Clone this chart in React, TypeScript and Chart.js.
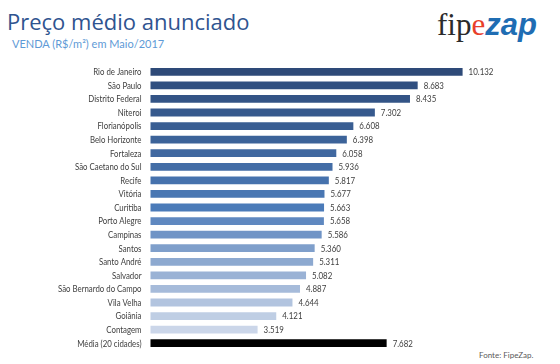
import React, { useEffect, useRef } from "react";
import { Chart, registerables } from "chart.js";

Chart.register(...registerables);

const cities = [
  "Rio de Janeiro", "São Paulo", "Distrito Federal", "Niteroi", "Florianópolis",
  "Belo Horizonte", "Fortaleza", "São Caetano do Sul", "Recife", "Vitória",
  "Curitiba", "Porto Alegre", "Campinas", "Santos", "Santo André",
  "Salvador", "São Bernardo do Campo", "Vila Velha", "Goiânia", "Contagem",
  "Média (20 cidades)",
];

const prices = [
  10132, 8683, 8435, 7302, 6608, 6398, 6058, 5936, 5817, 5677,
  5663, 5658, 5586, 5360, 5311, 5082, 4887, 4644, 4121, 3519, 7682,
];

const barColors = [
  "#2E4A78", "#304F80", "#335486", "#36598D", "#395E93",
  "#3C6399", "#4068A0", "#436DA6", "#4672AD", "#4977B3",
  "#4B7BB9", "#5F88C0", "#7094C6", "#7F9FCB", "#8DA9D0",
  "#9AB2D5", "#A6BBDA", "#B2C4DF", "#BFCEE4", "#CBD6E9", "#000000",
];

const FONT = "Lato, 'Open Sans', sans-serif";

function fmt(v: number): string {
  const th = Math.floor(v / 1000);
  const rest = String(v % 1000).padStart(3, "0");
  return th > 0 ? `${th}.${rest}` : String(v);
}

// Draws category labels (condensed) and value labels
const textLabels = {
  id: "textLabels",
  afterDatasetsDraw(chart: any) {
    const ctx = chart.ctx;
    const meta = chart.getDatasetMeta(0);
    const yScale = chart.scales.y;
    ctx.save();
    ctx.fillStyle = "#404040";
    ctx.textBaseline = "middle";
    ctx.font = `9px ${FONT}`;
    ctx.textAlign = "right";
    cities.forEach((c, i) => {
      const y = yScale.getPixelForValue(i);
      ctx.save();
      ctx.translate(141.5, y + 0.5);
      ctx.scale(0.87, 1);
      ctx.fillText(c, 0, 0);
      ctx.restore();
    });
    ctx.textAlign = "left";
    meta.data.forEach((bar: any, i: number) => {
      ctx.save();
      ctx.translate(bar.x + 5, bar.y + 0.5);
      ctx.scale(0.88, 1);
      ctx.fillText(fmt(prices[i]), 0, 0);
      ctx.restore();
    });
    ctx.restore();
  },
};

export default function App() {
  const ref = useRef<HTMLCanvasElement>(null);
  useEffect(() => {
    document.body.style.margin = "0";
    const chart = new Chart(ref.current!, {
      type: "bar",
      data: {
        labels: cities,
        datasets: [
          {
            data: prices,
            backgroundColor: barColors,
            borderColor: "rgba(255,255,255,0.35)",
            borderWidth: 1,
            borderSkipped: false,
            categoryPercentage: 1,
            barPercentage: 0.72,
          },
        ],
      },
      options: {
        indexAxis: "y",
        animation: false,
        responsive: false,
        layout: { padding: { top: 65, bottom: 14, left: 0, right: 23 } },
        plugins: { legend: { display: false }, tooltip: { enabled: false } },
        scales: {
          x: { display: false, min: 0, max: 12500 },
          y: {
            grid: { display: false },
            border: { display: false },
            afterFit: (s: any) => { s.width = 149.5; },
            ticks: { display: false, autoSkip: false },
          },
        },
      },
      plugins: [textLabels],
    });
    return () => chart.destroy();
  }, []);

  return (
    <div style={{ position: "relative", width: 560, height: 364, background: "#fff", fontFamily: FONT }}>
      <div style={{ position: "absolute", left: 7, top: 6, fontSize: 22, color: "#2F5490", fontFamily: "'Open Sans', sans-serif", whiteSpace: "nowrap" }}>
        Preço médio anunciado
      </div>
      <div style={{ position: "absolute", left: 12, top: 37, fontSize: 11, color: "#5E9AD6", whiteSpace: "nowrap" }}>
        VENDA (R$/m²) em Maio/2017
      </div>
      <div style={{ position: "absolute", left: 437, top: 6, fontSize: 31, whiteSpace: "nowrap", lineHeight: "34px" }}>
        <span style={{ fontFamily: "'Liberation Serif', serif", color: "#2B2B2B" }}>fip</span>
        <span style={{ fontFamily: "'Liberation Serif', serif", color: "#E8402A" }}>e</span>
        <span style={{ fontFamily: "'Liberation Sans', sans-serif", color: "#1F6DB3", fontWeight: 700, fontStyle: "italic" }}>zap</span>
      </div>
      <div style={{ position: "absolute", left: 479, top: 350, fontSize: 8, color: "#595959", whiteSpace: "nowrap" }}>
        Fonte: FipeZap.
      </div>
      <canvas ref={ref} width={560} height={364} style={{ position: "absolute", left: 0, top: 0 }} />
    </div>
  );
}
